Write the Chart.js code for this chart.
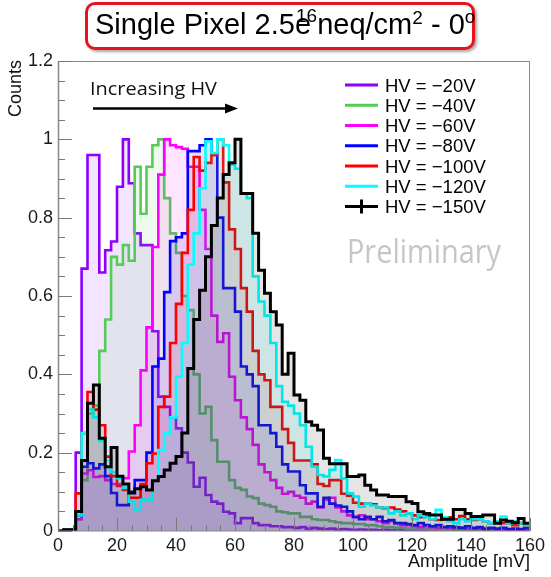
<!DOCTYPE html>
<html>
<head>
<meta charset="utf-8">
<script src="https://cdn.jsdelivr.net/npm/chart.js@4.4.1/dist/chart.umd.min.js"></script>
<style>
  html, body { margin: 0; padding: 0; background: #fff; }
  #wrap { position: relative; width: 551px; height: 577px; }
  #chart { display: block; }
  #titleBox {
    position: absolute; left: 85px; top: 2px; width: 384px; height: 42px;
    border: 3px solid #e8141a; border-radius: 10px;
    box-shadow: 2px 2px 3px rgba(0, 0, 0, 0.35); background: #fff;
  }
  #titleText {
    position: absolute; left: 95px; top: 10px; white-space: nowrap; color: #000;
    font: 29px "Liberation Sans", Arial, sans-serif; line-height: 29px;
  }
  .sup { position: relative; font-size: 19px; }
</style>
</head>
<body>
<div id="wrap">
  <canvas id="chart" width="551" height="577"></canvas>
  <div id="titleBox"></div>
  <div id="titleText">Single Pixel 2.5e<span class="sup" style="top:-12px;margin-left:-15px">16</span>neq/cm<span class="sup" style="top:-10px">2</span> - 0<span class="sup" style="top:-11px">o</span></div>
</div>
<script>
// Histogram binning (mV)
const binWidth = 2;
const amplitudeMax = 160;
const countsMax = 1.2;

const hvLabels = ['HV = −20V', 'HV = −40V', 'HV = −60V', 'HV = −80V', 'HV = −100V', 'HV = −120V', 'HV = −150V'];

// Normalised counts per 2 mV bin
const hv20 = [
    0, 0.003, 0.003, 0.2, 0.67, 0.96, 0.96, 0.66, 0.717, 0.739,
    0.879, 1.0, 0.888, 0.76, 0.73, 0.73, 0.51, 0.343, 0.317, 0.29,
    0.262, 0.2, 0.175, 0.113, 0.136, 0.092, 0.075, 0.07, 0.049, 0.045,
    0.02, 0.033, 0.033, 0.02, 0.015, 0.015, 0.012, 0.012, 0.01, 0.01,
    0.008, 0.01, 0.006, 0.008, 0.006, 0.005, 0.006, 0.004, 0.005, 0.004,
    0.003, 0.004, 0.003, 0.003, 0.002, 0.003, 0.002, 0.002, 0.002, 0.001,
    0.002, 0.001, 0.001, 0.001, 0.001, 0.001, 0, 0.001, 0, 0,
    0, 0, 0, 0, 0, 0, 0, 0, 0, 0
];
const hv40 = [
    0, 0.003, 0.003, 0.03, 0.13, 0.30, 0.32, 0.46, 0.54, 0.70,
    0.68, 0.73, 0.69, 0.93, 0.81, 0.93, 0.985, 1.0, 0.85, 0.76,
    0.71, 0.60, 0.564, 0.40, 0.30, 0.317, 0.232, 0.177, 0.177, 0.13,
    0.11, 0.105, 0.088, 0.084, 0.07, 0.066, 0.062, 0.05, 0.048, 0.045,
    0.045, 0.036, 0.036, 0.03, 0.028, 0.028, 0.025, 0.022, 0.02, 0.02,
    0.018, 0.018, 0.015, 0.015, 0.012, 0.01, 0.01, 0.008, 0.008, 0.006,
    0.006, 0.005, 0.005, 0.004, 0.004, 0.003, 0.003, 0.002, 0.003, 0.002,
    0.002, 0.002, 0.001, 0.002, 0.001, 0.001, 0.001, 0.001, 0, 0.001
];
const hv60 = [
    0, 0.003, 0.003, 0.03, 0.147, 0.155, 0.138, 0.14, 0.13, 0.12,
    0.12, 0.135, 0.203, 0.27, 0.41, 0.52, 0.725, 0.91, 1.0, 0.985,
    0.98, 0.976, 0.93, 0.93, 0.82, 0.72, 0.55, 0.483, 0.505, 0.394,
    0.334, 0.29, 0.26, 0.22, 0.17, 0.15, 0.13, 0.11, 0.095, 0.10,
    0.09, 0.085, 0.07, 0.075, 0.06, 0.08, 0.085, 0.06, 0.05, 0.04,
    0.035, 0.04, 0.03, 0.03, 0.025, 0.02, 0.025, 0.02, 0.015, 0.015,
    0.012, 0.01, 0.012, 0.01, 0.008, 0.01, 0.008, 0.006, 0.008, 0.006,
    0.005, 0.006, 0.004, 0.005, 0.004, 0.004, 0.003, 0.004, 0.003, 0.003
];
const hv80 = [
    0, 0.003, 0.003, 0.04, 0.164, 0.173, 0.16, 0.17, 0.14, 0.097,
    0.066, 0.066, 0.1, 0.13, 0.13, 0.2, 0.42, 0.44, 0.61, 0.74,
    0.75, 0.76, 0.97, 0.97, 0.985, 1.0, 0.96, 0.80, 0.62, 0.62,
    0.56, 0.42, 0.40, 0.37, 0.27, 0.27, 0.25, 0.215, 0.17, 0.152,
    0.152, 0.117, 0.096, 0.096, 0.062, 0.085, 0.07, 0.065, 0.062, 0.05,
    0.036, 0.03, 0.036, 0.03, 0.036, 0.025, 0.028, 0.02, 0.02, 0.018,
    0.015, 0.02, 0.015, 0.012, 0.015, 0.01, 0.012, 0.01, 0.008, 0.012,
    0.008, 0.01, 0.006, 0.008, 0.006, 0.008, 0.005, 0.006, 0.005, 0.008
];
const hv100 = [
    0, 0.003, 0.003, 0.096, 0.25, 0.355, 0.31, 0.27, 0.19, 0.14,
    0.115, 0.105, 0.085, 0.085, 0.12, 0.173, 0.198, 0.317, 0.343, 0.48,
    0.58, 0.71, 0.82, 0.955, 0.92, 0.94, 0.96, 1.0, 0.89, 0.77,
    0.72, 0.62, 0.56, 0.46, 0.40, 0.385, 0.317, 0.317, 0.26, 0.225,
    0.18, 0.18, 0.18, 0.17, 0.12, 0.115, 0.13, 0.13, 0.095, 0.09,
    0.072, 0.07, 0.07, 0.068, 0.06, 0.058, 0.06, 0.055, 0.05, 0.045,
    0.04, 0.035, 0.04, 0.03, 0.028, 0.03, 0.035, 0.03, 0.038, 0.03,
    0.028, 0.03, 0.025, 0.02, 0.025, 0.02, 0.02, 0.015, 0.02, 0.015
];
const hv120 = [
    0, 0.003, 0.003, 0.04, 0.25, 0.31, 0.29, 0.23, 0.18, 0.15,
    0.135, 0.11, 0.075, 0.055, 0.08, 0.08, 0.13, 0.207, 0.25, 0.29,
    0.394, 0.48, 0.68, 0.76, 0.875, 0.995, 0.965, 1.0, 0.985, 0.935,
    0.925, 0.862, 0.85, 0.65, 0.586, 0.55, 0.48, 0.37, 0.33, 0.32,
    0.30, 0.27, 0.215, 0.164, 0.143, 0.139, 0.156, 0.181, 0.134, 0.096,
    0.088, 0.062, 0.07, 0.065, 0.06, 0.06, 0.045, 0.05, 0.04, 0.045,
    0.03, 0.04, 0.035, 0.03, 0.054, 0.035, 0.025, 0.02, 0.03, 0.025,
    0.03, 0.03, 0.025, 0.02, 0.025, 0.037, 0.02, 0.025, 0.02, 0.015
];
const hv150 = [
    0, 0.003, 0.003, 0.05, 0.18, 0.326, 0.373, 0.237, 0.164, 0.213,
    0.14, 0.12, 0.097, 0.108, 0.113, 0.105, 0.128, 0.139, 0.156, 0.173,
    0.19, 0.25, 0.415, 0.54, 0.615, 0.70, 0.78, 0.85, 0.91, 0.94,
    1.0, 0.862, 0.862, 0.76, 0.666, 0.607, 0.56, 0.526, 0.40, 0.454,
    0.347, 0.334, 0.279, 0.27, 0.258, 0.186, 0.172, 0.172, 0.172, 0.139,
    0.139, 0.143, 0.117, 0.105, 0.092, 0.092, 0.088, 0.088, 0.088, 0.075,
    0.07, 0.049, 0.045, 0.041, 0.041, 0.03, 0.03, 0.055, 0.055, 0.045,
    0.037, 0.037, 0.041, 0.041, 0.02, 0.028, 0.025, 0.022, 0.032, 0.02
];

const allSeries = [hv20, hv40, hv60, hv80, hv100, hv120, hv150];
const lineColors = ['rgb(140,0,255)', 'rgb(85,204,85)', 'rgb(255,0,255)', 'rgb(0,0,255)', 'rgb(255,0,0)', 'rgb(0,255,255)', 'rgb(0,0,0)'];
const fillColors = ['rgba(140,0,255,0.1)', 'rgba(85,204,85,0.1)', 'rgba(255,0,255,0.1)', 'rgba(0,0,255,0.1)', 'rgba(255,0,0,0.1)', 'rgba(0,255,255,0.1)', 'rgba(0,0,0,0.1)'];

const FONT = '"Liberation Sans", Arial, sans-serif';

// bin contents -> step points (left edge of each bin + closing point)
function toSteps(values) {
    const pts = values.map((v, i) => ({ x: i * binWidth, y: v }));
    pts.push({ x: values.length * binWidth, y: values[values.length - 1] });
    return pts;
}

// Frame, inward ticks, legend and labels in ROOT style
const rootDecor = {
    id: 'rootDecor',
    afterDraw(chart) {
        const { ctx, chartArea: a } = chart;
        const xs = chart.scales.x, ys = chart.scales.y;
        ctx.save();

        // frame
        ctx.strokeStyle = '#8a8a8a';
        ctx.lineWidth = 1;
        ctx.strokeRect(a.left + 0.5, a.top + 0.5, a.right - a.left - 1, a.bottom - a.top - 0.5);
        ctx.lineWidth = 1.5;
        ctx.beginPath();
        ctx.moveTo(a.left + 0.5, a.top); ctx.lineTo(a.left + 0.5, a.bottom);
        ctx.stroke();

        // y ticks every 0.05, long every 0.2
        ctx.strokeStyle = '#7a7a7a';
        ctx.lineWidth = 1;
        ctx.beginPath();
        for (let k = 0; k <= 24; k++) {
            const py = Math.round(ys.getPixelForValue(k * 0.05)) + 0.5;
            const len = k % 4 === 0 ? 14 : 7;
            ctx.moveTo(a.left, py); ctx.lineTo(a.left + len, py);
        }
        // x ticks every 5 mV, long every 20
        for (let k = 0; k <= 32; k++) {
            const px = Math.round(xs.getPixelForValue(k * 5)) + 0.5;
            const len = k % 4 === 0 ? 13 : 6;
            ctx.moveTo(px, a.bottom); ctx.lineTo(px, a.bottom - len);
        }
        ctx.stroke();

        // axis titles
        ctx.fillStyle = '#111';
        ctx.font = '18px ' + FONT;
        ctx.textAlign = 'right';
        ctx.textBaseline = 'alphabetic';
        ctx.fillText('Amplitude [mV]', a.right, 567);
        ctx.save();
        ctx.translate(21, a.top - 1);
        ctx.rotate(-Math.PI / 2);
        ctx.fillText('Counts', 0, 0);
        ctx.restore();

        // legend
        ctx.textAlign = 'left';
        ctx.font = '18.5px ' + FONT;
        hvLabels.forEach((label, i) => {
            const rowY = 85 + i * 20.25;
            ctx.strokeStyle = lineColors[i];
            ctx.lineWidth = 3;
            ctx.beginPath();
            ctx.moveTo(345, rowY); ctx.lineTo(378, rowY);
            if (i === hvLabels.length - 1) {
                ctx.moveTo(361.5, rowY - 7); ctx.lineTo(361.5, rowY + 7);
            }
            ctx.stroke();
            ctx.fillStyle = '#000';
            ctx.fillText(label, 385, rowY + 6.5);
        });

        // "Increasing HV" with arrow
        ctx.fillStyle = '#111';
        fitText(ctx, 'Increasing HV', 90, 95, 127, '19px "Open Sans", ' + FONT);
        ctx.strokeStyle = '#000';
        ctx.lineWidth = 2.5;
        ctx.beginPath();
        ctx.moveTo(93, 108.5); ctx.lineTo(227, 108.5);
        ctx.stroke();
        ctx.fillStyle = '#000';
        ctx.beginPath();
        ctx.moveTo(238, 108.5); ctx.lineTo(225, 103.5); ctx.lineTo(225, 113.5);
        ctx.closePath();
        ctx.fill();

        // "Preliminary"
        ctx.fillStyle = '#c6c6c6';
        fitText(ctx, 'Preliminary', 347, 263, 154, '32px "Open Sans", ' + FONT);

        ctx.restore();
    }
};

function fitText(ctx, text, x, y, width, font) {
    ctx.save();
    ctx.font = font;
    ctx.textAlign = 'left';
    ctx.textBaseline = 'alphabetic';
    const w = ctx.measureText(text).width;
    ctx.translate(x, y);
    ctx.scale(width / w, 1);
    ctx.fillText(text, 0, 0);
    ctx.restore();
}

new Chart(document.getElementById('chart'), {
    type: 'line',
    data: {
        datasets: allSeries.map((values, i) => ({
            label: hvLabels[i],
            data: toSteps(values),
            stepped: true,
            fill: 'origin',
            borderColor: lineColors[i],
            backgroundColor: fillColors[i],
            borderWidth: i === allSeries.length - 1 ? 3 : 2.6,
            borderJoinStyle: 'miter',
            pointRadius: 0,
            order: allSeries.length - i
        }))
    },
    options: {
        responsive: false,
        animation: false,
        devicePixelRatio: 1,
        layout: { padding: { top: 61, right: 21, left: 0, bottom: 0 } },
        plugins: {
            legend: { display: false },
            tooltip: { enabled: false }
        },
        scales: {
            x: {
                type: 'linear',
                min: 0,
                max: amplitudeMax,
                afterFit: (scale) => { scale.height = 46; },
                ticks: { stepSize: 20, color: '#1a1a1a', font: { size: 18, family: FONT }, padding: 4, maxRotation: 0 },
                grid: { display: false, drawTicks: false },
                border: { display: false }
            },
            y: {
                min: 0,
                max: countsMax,
                afterFit: (scale) => { scale.width = 58; },
                ticks: {
                    stepSize: 0.2,
                    color: '#1a1a1a',
                    font: { size: 18, family: FONT },
                    padding: 5,
                    callback: (v) => String(+v.toFixed(2))
                },
                grid: { display: false, drawTicks: false },
                border: { display: false }
            }
        }
    },
    plugins: [rootDecor]
});
</script>
</body>
</html>
